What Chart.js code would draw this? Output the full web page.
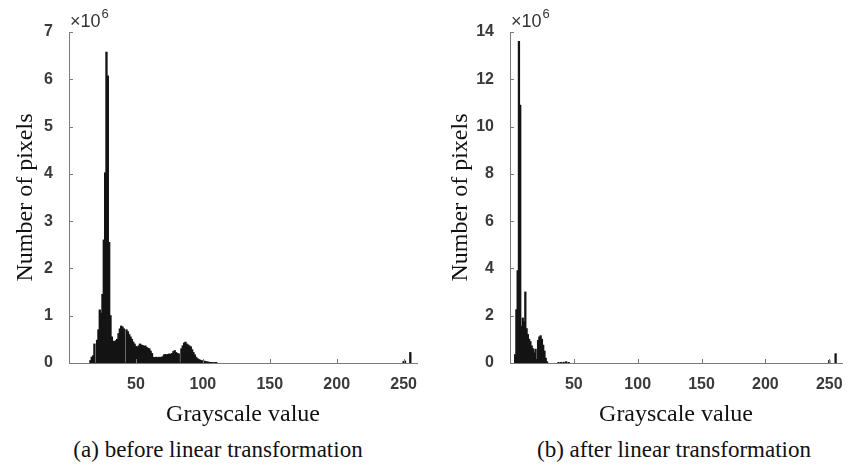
<!DOCTYPE html>
<html>
<head>
<meta charset="utf-8">
<script src="https://cdn.jsdelivr.net/npm/chart.js@4"></script>
<style>
    body { margin: 0; background: #fff; }
    #pagina { position: relative; width: 854px; height: 467px; overflow: hidden; }
    .grafico { position: absolute; top: 0; }
    .legenda {
        position: absolute; font-family: "Liberation Serif", serif; font-size: 23px;
        color: #111; white-space: nowrap; transform: translateX(-50%); top: 437px;
    }
</style>
</head>
<body>
<div id="pagina">
    <div class="grafico" style="left:0"><canvas id="graficoAntes" width="427" height="430"></canvas></div>
    <div class="grafico" style="left:427px"><canvas id="graficoDepois" width="427" height="430"></canvas></div>
    <div class="legenda" style="left:218px">(a) before linear transformation</div>
    <div class="legenda" style="left:674px">(b) after linear transformation</div>
</div>
<script>
// Histogram before the linear transformation (counts in millions)
const antesCinza = [
    16, 17, 18, 19, 20, 21, 22, 23, 24, 25, 26, 27, 28, 29, 30, 31, 32, 33, 34, 35,
    36, 37, 38, 39, 40, 41, 42, 43, 44, 45, 46, 47, 48, 49, 50, 51, 52, 53, 54, 55,
    56, 57, 58, 59, 60, 61, 62, 63, 64, 65, 66, 67, 68, 69, 70, 71, 72, 73, 74, 75,
    76, 77, 78, 79, 80, 81, 82, 83, 84, 85, 86, 87, 88, 89, 90, 91, 92, 93, 94, 95,
    96, 97, 98, 99, 100, 101, 102, 103, 104, 105, 106, 107, 108, 109, 110,
    250, 251, 255
]
const antesContagem = [
    0.05, 0.12, 0.15, 0.40, 0, 0.48, 0.70, 1.12, 1.05, 1.45, 2.60, 4.02, 6.57, 6.07, 2.55, 1.00, 0.55, 0.46, 0.45, 0.47,
    0.50, 0.62, 0.72, 0.78, 0.76, 0.72, 0, 0.70, 0.66, 0.60, 0.55, 0.50, 0.44, 0.40, 0.35, 0.33, 0.36, 0.40, 0.38, 0.37,
    0.35, 0.36, 0.33, 0.31, 0.30, 0.25, 0.20, 0.12, 0.11, 0.12, 0.11, 0.12, 0.11, 0.12, 0.13, 0.17, 0.18, 0.17, 0.18, 0.19,
    0.18, 0.20, 0.24, 0.26, 0.22, 0.20, 0.19, 0, 0.30, 0.36, 0.42, 0.44, 0.40, 0.38, 0.36, 0.34, 0.28, 0.22, 0.17, 0.12,
    0.09, 0.07, 0.06, 0.05, 0.04, 0.04, 0.03, 0.02, 0.02, 0.01, 0.01, 0.005, 0.005, 0.004, 0.01,
    0.03, 0.04, 0.22
]

// Histogram after the linear transformation (counts in millions)
const depoisCinza = [
    4, 5, 6, 7, 8, 9, 10, 11, 12, 13, 14, 15, 16, 17, 18, 19, 20, 21, 22, 23,
    24, 25, 26, 27, 28, 29, 38, 40, 42, 44, 46, 250, 255
]
const depoisContagem = [
    0.35, 2.25, 3.90, 13.6, 10.9, 1.55, 1.90, 1.75, 3.00, 1.45, 1.20, 1.00, 0.90, 0.72, 0.60, 0.42, 0.58, 0.15, 0.95, 1.10,
    1.15, 1.00, 0.75, 0.50, 0.20, 0.05, 0.02, 0.02, 0.03, 0.05, 0.02, 0.10, 0.39
]

// Axis ticks
const xTicks = [50, 100, 150, 200, 250]
const antesYMax = 7
const antesYPasso = 1
const depoisYMax = 14
const depoisYPasso = 2

const corEixo = "#7a7a7a"
const fonteTicks = { family: "Liberation Sans", size: 16, weight: "bold" }
const fonteTitulo = { family: "Liberation Serif", size: 24 }

// Draws MATLAB-like inward ticks and the x10^6 label
const pluginEixos = {
    id: "eixosMatlab",
    afterDraw(chart) {
        const ctx = chart.ctx
        const area = chart.chartArea
        const sx = chart.scales.x
        const sy = chart.scales.y
        ctx.save()
        ctx.strokeStyle = corEixo
        ctx.lineWidth = 1
        ctx.beginPath()
        sy.ticks.forEach(function (t) {
            const py = Math.round(sy.getPixelForValue(t.value)) + 0.5
            ctx.moveTo(area.left, py)
            ctx.lineTo(area.left + 4, py)
        })
        sx.ticks.forEach(function (t) {
            const px = Math.round(sx.getPixelForValue(t.value)) + 0.5
            ctx.moveTo(px, area.bottom)
            ctx.lineTo(px, area.bottom - 4)
        })
        ctx.stroke()

        // Exponent label at the top of the y axis
        ctx.fillStyle = "#333"
        ctx.textBaseline = "alphabetic"
        ctx.font = "18px 'Liberation Sans'"
        const base = "\u00d710"
        ctx.fillText(base, area.left + 1, area.top - 5)
        const w = ctx.measureText(base).width
        ctx.font = "13px 'Liberation Sans'"
        ctx.fillText("6", area.left + 2 + w, area.top - 14)
        ctx.restore()
    }
}

function criaHistograma(idCanvas, cinza, contagem, yMax, yPasso, larguraY, padDireita, padTituloY) {
    const pontos = []
    for (let i = 0; i < cinza.length; i++) {
        pontos.push({ x: cinza[i], y: contagem[i] })
    }

    const config = {
        type: "bar",
        data: {
            datasets: [{
                data: pontos,
                backgroundColor: "#141414",
                borderWidth: 0,
                barPercentage: 1,
                categoryPercentage: 1,
                inflateAmount: 0.5 // closes the antialias seams between adjacent bins
            }]
        },
        options: {
            responsive: false,
            animation: false,
            layout: { padding: { top: 32, right: padDireita, left: 0, bottom: 0 } },
            plugins: { legend: { display: false }, tooltip: { enabled: false } },
            scales: {
                x: {
                    type: "linear",
                    min: 0,
                    max: 260,
                    offset: false,
                    grid: { display: false },
                    border: { color: corEixo, width: 1 },
                    afterBuildTicks: function (scale) {
                        scale.ticks = xTicks.map(function (v) { return { value: v } })
                    },
                    afterFit: function (scale) { scale.height = 67 },
                    ticks: { font: fonteTicks, color: "#3a3a3a", padding: 4, maxRotation: 0, autoSkip: false },
                    title: { display: true, text: "Grayscale value", font: fonteTitulo, color: "#111", padding: { top: 0, bottom: 1 } }
                },
                y: {
                    min: 0,
                    max: yMax,
                    grid: { display: false },
                    border: { color: corEixo, width: 1 },
                    afterFit: function (scale) { scale.width = larguraY },
                    ticks: { stepSize: yPasso, font: fonteTicks, color: "#3a3a3a", padding: 8 },
                    title: { display: true, text: "Number of pixels", font: fonteTitulo, color: "#111", padding: { top: padTituloY, bottom: 0 } }
                }
            }
        },
        plugins: [pluginEixos]
    }

    new Chart(document.getElementById(idCanvas).getContext("2d"), config)
}

criaHistograma("graficoAntes", antesCinza, antesContagem, antesYMax, antesYPasso, 69, 10, 11)
criaHistograma("graficoDepois", depoisCinza, depoisContagem, depoisYMax, depoisYPasso, 83, 12, 19)
</script>
</body>
</html>
